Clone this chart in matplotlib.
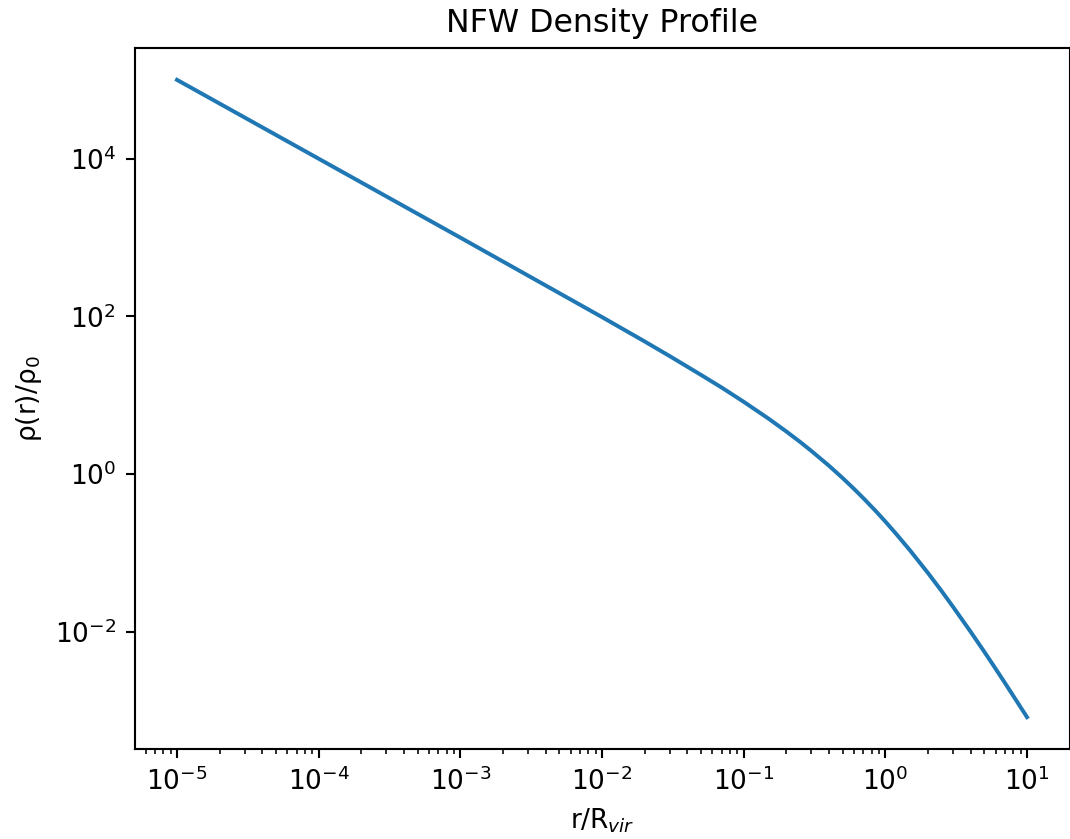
import matplotlib
matplotlib.use('Agg')
import matplotlib.pyplot as plt
from matplotlib.ticker import NullLocator

# values
r_over_rvir = [1e-5, 1e-4, 1e-3, 1e-2, 2e-2, 3e-2, 5e-2, 7e-2, 0.1, 0.15, 0.2, 0.25,
               0.3, 0.4, 0.5, 0.6, 0.7, 0.85, 1.0, 1.2, 1.5, 2.0, 2.5, 3.0, 4.0,
               5.0, 6.0, 7.0, 8.5, 10.0]
rho_over_rho0 = [1.0e5, 1.0e4, 998, 98.0, 48.1, 31.4, 18.1, 12.5, 8.26, 5.04, 3.47, 2.56,
                 1.97, 1.276, 0.889, 0.651, 0.494, 0.344, 0.25, 0.172, 0.1067, 0.0556, 0.0327,
                 0.0208, 0.01, 0.00556, 0.0034, 0.00223, 0.0013, 8.26e-4]
y_ticks = [1e-2, 1e0, 1e2, 1e4]

s = 1.9  # scale from default sizes

fig = plt.figure(figsize=(10.7, 8.39), dpi=100)
ax = fig.add_axes([134.5 / 1070, 90 / 839, 935 / 1070, 701 / 839])

ax.loglog(r_over_rvir, rho_over_rho0, color='#1f77b4', linewidth=1.5 * s)

ax.set_yticks(y_ticks)
ax.yaxis.set_minor_locator(NullLocator())

ax.set_title('NFW Density Profile', fontsize=12 * s, pad=6 * s)
ax.set_xlabel('r/R$_{vir}$', fontsize=10 * s, labelpad=4 * s)
ax.set_ylabel('ρ(r)/ρ$_0$', fontsize=10 * s, labelpad=4 * s)

ax.tick_params(which='major', labelsize=10 * s, length=3.5 * s, width=0.8 * s, pad=3.5 * s)
ax.tick_params(which='minor', length=2 * s, width=0.6 * s)
for sp in ax.spines.values():
    sp.set_linewidth(0.8 * s)

fig.savefig('out.png', dpi=100)
